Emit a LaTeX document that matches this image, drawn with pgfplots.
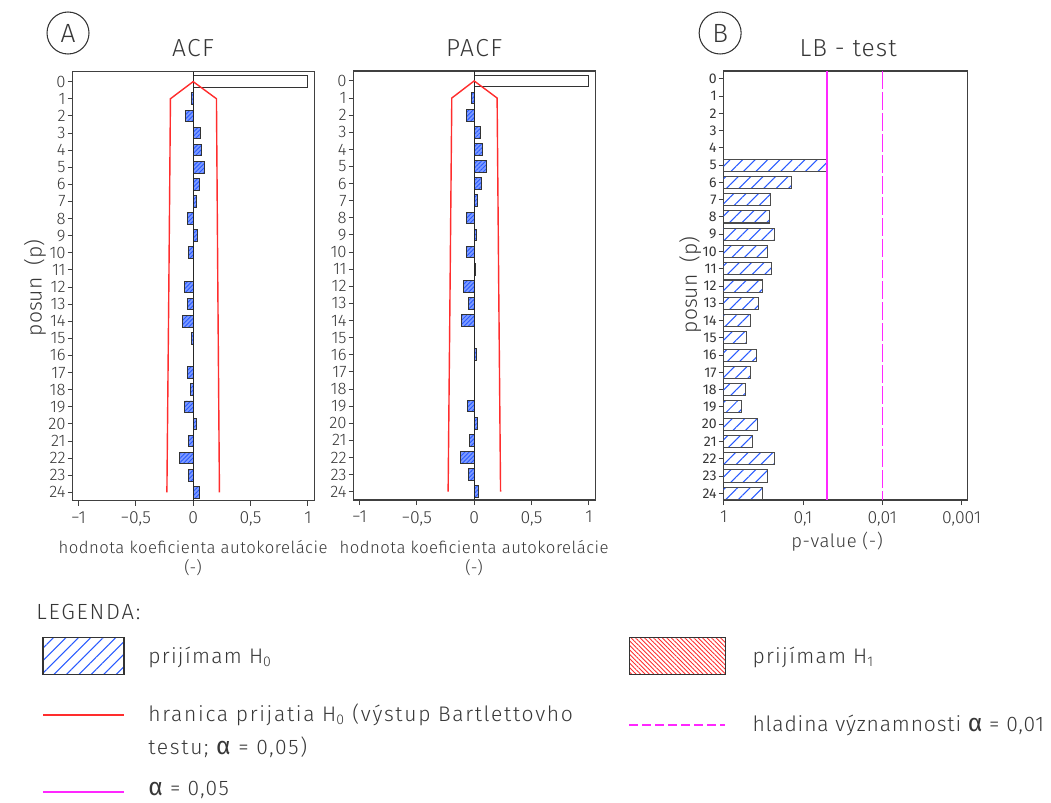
\documentclass[border=0pt]{standalone}
\usepackage{pgfplots}
\pgfplotsset{compat=1.18}
\usepackage{fontspec}
\setmainfont{Fira Sans Light}
\newfontfamily\regfont{Fira Sans}
\usetikzlibrary{patterns.meta}
\definecolor{txt}{RGB}{55,55,55}
\definecolor{hblue}{RGB}{40,90,255}
\definecolor{bfill}{RGB}{125,155,255}
\definecolor{bred}{RGB}{255,45,45}
\definecolor{mag}{RGB}{255,40,255}
\newcommand{\al}{{\regfont\fontsize{14}{12}\selectfont α}}

\pgfplotsset{
  panel/.style={
    scale only axis, anchor=north west, height=8.58cm,
    y dir=reverse, ytick={0,...,24},
    tick align=outside, xtick pos=bottom, ytick pos=left,
    major tick length=0.1cm,
    axis line style={black!75, line width=0.8pt},
    tick style={black!75, line width=0.5pt},
    /pgf/number format/assume math mode=true,
    xticklabel style={font=\fontsize{10}{10}\selectfont, text=txt},
    yticklabel style={font=\fontsize{9.5}{9.5}\selectfont, text=txt, inner sep=1pt},
  },
  corr/.style={
    panel, width=4.83cm,
    xmin=-1.05, xmax=1.055, ymin=-0.58, ymax=24.49,
    xtick={-1,-0.5,0,0.5,1}, xticklabels={−1,{−0,5},0,{0,5},1},
  },
  smallbar/.style={
    xbar, bar width=0.68, draw=black!80, line width=0.5pt, fill=bfill,
    postaction={pattern={Lines[angle=45,distance=1.7pt,line width=0.5pt]}, pattern color=hblue},
  },
}

\begin{document}
\begin{tikzpicture}
\useasboundingbox (0,0) rectangle (21.02cm,-16.06cm);

% ACF
\begin{axis}[corr, at={(1.454cm,-1.434cm)}]
\addplot[xbar, bar width=0.68, draw=black!80, line width=0.5pt, fill=white] coordinates {(1,0)};
\addplot[smallbar] coordinates {
 (-0.015,1) (-0.067,2) (0.064,3) (0.072,4) (0.100,5) (0.058,6) (0.029,7) (-0.046,8)
 (0.041,9) (-0.038,10) (0,11) (-0.076,12) (-0.046,13) (-0.090,14) (-0.015,15) (0,16)
 (-0.046,17) (-0.023,18) (-0.076,19) (0.032,20) (-0.041,21) (-0.119,22) (-0.041,23) (0.055,24)};
\addplot[black!85, line width=0.6pt] coordinates {(0,-0.58) (0,24.49)};
\addplot[bred, line width=0.8pt] coordinates {
 (-0.229,24) (-0.212,12) (-0.198,1) (0,0) (0.203,1) (0.215,12) (0.229,24)};
\end{axis}

% PACF
\begin{axis}[corr, at={(7.074cm,-1.42cm)}]
\addplot[xbar, bar width=0.68, draw=black!80, line width=0.5pt, fill=white] coordinates {(1,0)};
\addplot[smallbar] coordinates {
 (-0.023,1) (-0.070,2) (0.058,3) (0.070,4) (0.108,5) (0.067,6) (0.032,7) (-0.067,8)
 (0.020,9) (-0.070,10) (0.015,11) (-0.090,12) (-0.047,13) (-0.108,14) (0,15) (0.023,16)
 (0,17) (0,18) (-0.061,19) (0.032,20) (-0.041,21) (-0.122,22) (-0.047,23) (0.041,24)};
\addplot[black!85, line width=0.6pt] coordinates {(0,-0.58) (0,24.49)};
\addplot[bred, line width=0.8pt] coordinates {
 (-0.227,24) (-0.210,12) (-0.195,1) (0,0) (0.200,1) (0.214,12) (0.230,24)};
\end{axis}

% LB test
\begin{axis}[panel, at={(14.474cm,-1.42cm)}, width=4.87cm,
  xmode=log, x dir=reverse, xmin=0.00085, xmax=1,
  ymin=-0.45, ymax=24.39,
  xtick={1,0.1,0.01,0.001}, xticklabels={1,{0,1},{0,01},{0,001}},
  yticklabel style={font=\regfont\fontsize{8}{8}\selectfont},
  minor xtick={}]
\addplot[xbar, bar width=0.7, draw=black!70, line width=0.6pt,
  pattern={Lines[angle=45,distance=5pt,line width=0.6pt]}, pattern color=hblue] coordinates {
 (0.049,5) (0.138,6) (0.259,7) (0.264,8) (0.230,9) (0.282,10) (0.249,11) (0.321,12)
 (0.367,13) (0.459,14) (0.516,15) (0.382,16) (0.455,17) (0.527,18) (0.592,19) (0.378,20)
 (0.430,21) (0.230,22) (0.280,23) (0.321,24)};
\addplot[mag, line width=0.9pt] coordinates {(0.05,-0.45) (0.05,24.39)};
\addplot[mag, line width=0.9pt, dash pattern=on 0.36cm off 0.06cm] coordinates {(0.01,-0.45) (0.01,24.39)};
\end{axis}

\begin{scope}[x=0.02cm, y=-0.02cm, text=txt]
% panel labels and titles
\node[circle, draw=black!80, line width=0.6pt, minimum size=0.84cm, inner sep=0pt,
  font=\fontsize{15}{15}\selectfont] at (68,33) {A};
\node[circle, draw=black!80, line width=0.6pt, minimum size=0.84cm, inner sep=0pt,
  font=\fontsize{15}{15}\selectfont] at (720,33) {B};
\node[font=\fontsize{14}{14}\selectfont\addfontfeature{LetterSpace=6}] at (193,48) {ACF};
\node[font=\fontsize{14}{14}\selectfont\addfontfeature{LetterSpace=6}] at (474,48) {PACF};
\node[font=\fontsize{14}{14}\selectfont\addfontfeature{LetterSpace=4}] at (848,48) {LB - test};
% axis labels
\node[font=\fontsize{9.5}{9.5}\selectfont\addfontfeature{LetterSpace=3}] at (193,547) {hodnota koeficienta autokorelácie};
\node[font=\fontsize{9.5}{9.5}\selectfont] at (193,568) {(-)};
\node[font=\fontsize{9.5}{9.5}\selectfont\addfontfeature{LetterSpace=3}] at (474,547) {hodnota koeficienta autokorelácie};
\node[font=\fontsize{9.5}{9.5}\selectfont] at (474,568) {(-)};
\node[font=\fontsize{10.5}{10.5}\selectfont\addfontfeature{LetterSpace=3}] at (837,542) {p-value (-)};
\node[font=\fontsize{12}{12}\selectfont, rotate=90] at (35,288) {posun\ \ (p)};
\node[font=\fontsize{12}{12}\selectfont, rotate=90] at (690,285) {posun\ \ (p)};
% legend
\node[font=\fontsize{12.5}{12.5}\selectfont\addfontfeature{LetterSpace=8}, anchor=west, inner sep=0pt] at (36,612) {LEGENDA:};
\draw[black!80, line width=0.6pt, pattern={Lines[angle=45,distance=5pt,line width=0.6pt]}, pattern color=hblue]
  (43,637) rectangle (124,674);
\node[font=\fontsize{12}{12}\selectfont\addfontfeature{LetterSpace=6}, anchor=west, inner sep=0pt] at (148,657) {prijímam H\textsubscript{0}};
\draw[bred, line width=1pt] (43,715) -- (124,715);
\node[font=\fontsize{12}{12}\selectfont\addfontfeature{LetterSpace=8}, anchor=west, inner sep=0pt] at (148,715) {hranica prijatia H\textsubscript{0} (výstup Bartlettovho};
\node[font=\fontsize{12}{12}\selectfont\addfontfeature{LetterSpace=8}, anchor=west, inner sep=0pt] at (148,747) {testu; \al{} = 0,05)};
\draw[mag, line width=1pt] (43,792) -- (124,792);
\node[font=\fontsize{12}{12}\selectfont\addfontfeature{LetterSpace=6}, anchor=west, inner sep=0pt] at (148,790) {\al{} = 0,05};
\draw[black!80, line width=0.6pt, pattern={Lines[angle=-45,distance=1.8pt,line width=0.5pt]}, pattern color=bred]
  (629,637) rectangle (725,674);
\node[font=\fontsize{12}{12}\selectfont\addfontfeature{LetterSpace=6}, anchor=west, inner sep=0pt] at (752,657) {prijímam H\textsubscript{1}};
\draw[mag, line width=1pt, dash pattern=on 0.17cm off 0.09cm] (629,725) -- (725,725);
\node[font=\fontsize{12}{12}\selectfont\addfontfeature{LetterSpace=4}, anchor=west, inner sep=0pt] at (752,725) {hladina významnosti \al{} = 0,01};
\end{scope}
\end{tikzpicture}
\end{document}
